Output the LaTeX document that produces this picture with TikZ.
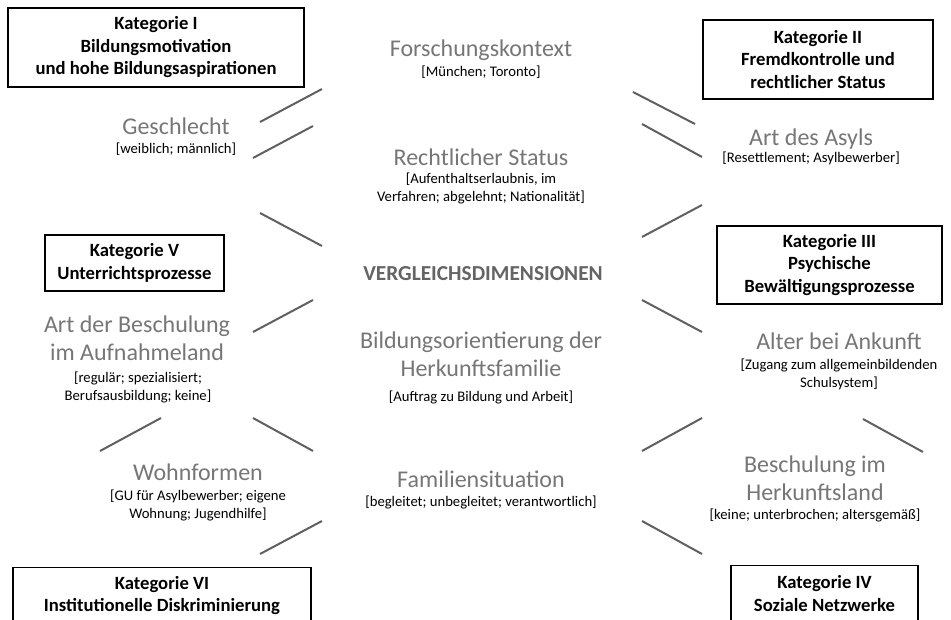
\documentclass[tikz,border=0pt]{standalone}
\usepackage{fontspec}
\setmainfont{Carlito}
\usepackage{tikz}
\usetikzlibrary{positioning}
\definecolor{dimgray}{RGB}{118,118,118}
\definecolor{headgray}{RGB}{100,100,100}
\definecolor{linegray}{RGB}{96,96,96}
\tikzstyle{category} = [rectangle, draw=black, line width=1pt, inner sep=0pt, align=center, font=\fontsize{14}{16.9}\selectfont\bfseries]
\tikzstyle{dimension} = [anchor=base, inner sep=0pt, align=center, text=dimgray, font=\fontsize{18}{21}\selectfont]
\tikzstyle{values} = [anchor=base, inner sep=0pt, align=center, font=\fontsize{11}{13.5}\selectfont]
\tikzstyle{link} = [draw=linegray, line width=1.5pt]

\begin{document}
\begin{tikzpicture}[x=0.75pt, y=-0.75pt]

\clip (0,0) rectangle (951,620);

% categories (the two lower ones run past the bottom edge)
\node (1) [category, minimum width=222pt, minimum height=59.25pt] at (156,47.5) {Kategorie I\\Bildungsmotivation\\und hohe Bildungsaspirationen};
\node (2) [category, minimum width=172.5pt, minimum height=59.25pt] at (818,59.5) {Kategorie II\\Fremdkontrolle und\\rechtlicher Status};
\node (3) [category, minimum width=168.75pt, minimum height=58.5pt] at (829.5,265) {Kategorie III\\Psychische\\Bewältigungsprozesse};
\node (4) [category, anchor=north, minimum width=140.25pt, minimum height=42pt] at (824.5,565) {Kategorie IV\\Soziale Netzwerke};
\node (5) [category, minimum width=134.25pt, minimum height=42pt] at (134.5,263) {Kategorie V\\Unterrichtsprozesse};
\node (6) [category, anchor=north, minimum width=223.5pt, minimum height=42pt] at (162,567) {Kategorie VI\\Institutionelle Diskriminierung};

% dimensions, placed at the baseline of their last line
\node (10) [dimension] at (481,57) {Forschungskontext};
\node (10v) [values] at (481,77) {[München; Toronto]};
\node (11) [dimension] at (176,135) {Geschlecht};
\node (11v) [values] at (176,154) {[weiblich; männlich]};
\node (12) [dimension] at (481,166) {Rechtlicher Status};
\node (12v) [values] at (481,202) {[Aufenthaltserlaubnis, im\\Verfahren; abgelehnt; Nationalität]};
\node (13) [dimension, text=headgray, font=\fontsize{16}{19}\selectfont\bfseries] at (483,281) {VERGLEICHSDIMENSIONEN};
\node (14) [dimension] at (137,361) {Art der Beschulung\\im Aufnahmeland};
\node (14v) [values] at (138,401) {[regulär; spezialisiert;\\Berufsausbildung; keine]};
\node (15) [dimension] at (481,377) {Bildungsorientierung der\\Herkunftsfamilie};
\node (15v) [values] at (481,402) {[Auftrag zu Bildung und Arbeit]};
\node (16) [dimension] at (198,481) {Wohnformen};
\node (16v) [values] at (198,519) {[GU für Asylbewerber; eigene\\Wohnung; Jugendhilfe]};
\node (17) [dimension] at (481,488) {Familiensituation};
\node (17v) [values] at (481,507) {[begleitet; unbegleitet; verantwortlich]};
\node (18) [dimension] at (811,146) {Art des Asyls};
\node (18v) [values] at (811,163) {[Resettlement; Asylbewerber]};
\node (19) [dimension] at (839,350) {Alter bei Ankunft};
\node (19v) [values] at (839,388) {[Zugang zum allgemeinbildenden\\Schulsystem]};
\node (20) [dimension] at (815,501) {Beschulung im\\Herkunftsland};
\node (20v) [values] at (815,520) {[keine; unterbrochen; altersgemäß]};

% free-standing strokes between the dimensions
\coordinate (a1) at (260,122); \coordinate (b1) at (322,89);
\coordinate (a2) at (253,158); \coordinate (b2) at (313,126);
\coordinate (a3) at (260,213); \coordinate (b3) at (322,246);
\coordinate (a4) at (253,332); \coordinate (b4) at (313,300);
\coordinate (a5) at (100,451); \coordinate (b5) at (161,418);
\coordinate (a6) at (253,418); \coordinate (b6) at (313,451);
\coordinate (a7) at (260,554); \coordinate (b7) at (322,521);
\coordinate (a8) at (633,92); \coordinate (b8) at (695,124);
\coordinate (a9) at (642,124); \coordinate (b9) at (702,157);
\coordinate (a10) at (642,237); \coordinate (b10) at (702,205);
\coordinate (a11) at (642,300); \coordinate (b11) at (702,332);
\coordinate (a12) at (642,451); \coordinate (b12) at (702,418);
\coordinate (a13) at (863,419); \coordinate (b13) at (923,452);
\coordinate (a14) at (642,521); \coordinate (b14) at (702,554);

\draw [link] (a1) -- (b1);
\draw [link] (a2) -- (b2);
\draw [link] (a3) -- (b3);
\draw [link] (a4) -- (b4);
\draw [link] (a5) -- (b5);
\draw [link] (a6) -- (b6);
\draw [link] (a7) -- (b7);
\draw [link] (a8) -- (b8);
\draw [link] (a9) -- (b9);
\draw [link] (a10) -- (b10);
\draw [link] (a11) -- (b11);
\draw [link] (a12) -- (b12);
\draw [link] (a13) -- (b13);
\draw [link] (a14) -- (b14);

\end{tikzpicture}
\end{document}
